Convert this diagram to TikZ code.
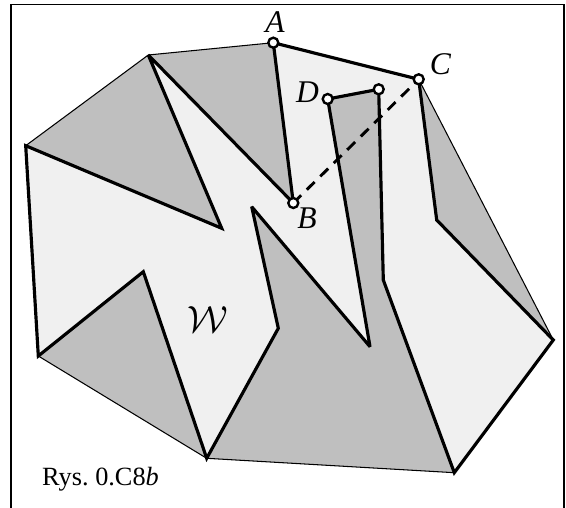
\documentclass[tikz,border=0pt]{standalone}
\usepackage{fontspec}
\setmainfont{Liberation Serif}
\usepackage{tikz}

\begin{document}
\begin{tikzpicture}[x=0.38pt, y=-0.38pt,
  hull/.style={fill=gray!50, draw, line width=0.4pt},
  region/.style={fill=gray!12, draw, line width=1.2pt, line join=miter, miter limit=3},
  vertex/.style={circle, draw, fill=white, line width=0.9pt, inner sep=0pt, minimum size=3.8pt},
  lbl/.style={font=\large\itshape, inner sep=0pt}]
  \useasboundingbox (0,0) rectangle (566,508);
  \draw[line width=0.5pt] (11,508) -- (11,4.5) -- (564,4.5) -- (564,508);

  % vertices
  \coordinate (A) at (273.3,42.7);
  \coordinate (B) at (293.3,203);
  \coordinate (C) at (418.7,79.3);
  \coordinate (D) at (327.7,99);
  \coordinate (E) at (378.7,89.3);
  \coordinate (p1) at (148.3,55);
  \coordinate (p2) at (25.7,145.7);
  \coordinate (q1) at (221.7,228.3);
  \coordinate (q2) at (251.7,206.7);
  \coordinate (q3) at (278.3,328.3);
  \coordinate (r1) at (436.7,220);
  \coordinate (r2) at (553.3,340);
  \coordinate (r3) at (454.3,472.7);
  \coordinate (r4) at (383.3,280);
  \coordinate (r5) at (370,346.7);
  \coordinate (l1) at (206.7,458.3);
  \coordinate (l2) at (143.3,271.7);
  \coordinate (l3) at (38.3,356);

  \draw[hull] (A) -- (C) -- (r2) -- (r3) -- (l1) -- (l3) -- (p2) -- (p1) -- cycle;
  \draw[region] (A) -- (C) -- (r1) -- (r2) -- (r3) -- (r4) -- (E) -- (D) -- (r5)
    -- (q2) -- (q3) -- (l1) -- (l2) -- (l3) -- (p2) -- (q1) -- (p1) -- (B) -- cycle;
  \draw[line width=1.1pt, dash pattern=on 4.2pt off 3pt] (B) -- (C);

  \foreach \p in {A,B,C,D,E}
    \node[vertex] (v\p) at (\p) {};

  \node[lbl] (labA) at (275,22) {A};
  \node[lbl] (labB) at (307,218) {B};
  \node[lbl] (labC) at (440.5,64) {C};
  \node[lbl] (labD) at (307.5,92.5) {D};
  \node[font=\Large, inner sep=0pt] (labW) at (208,320) {$\mathcal{W}$};
  \node[anchor=base west, inner sep=0pt] (caption) at (41.7,485) {Rys.\ 0.C8\textit{b}};
\end{tikzpicture}
\end{document}
